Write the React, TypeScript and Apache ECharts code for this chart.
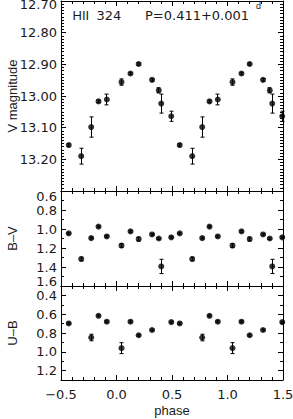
import React, { useEffect, useRef } from 'react';
import * as echarts from 'echarts';

const phases = [0.045, 0.126, 0.200, 0.320, 0.381, 0.403, 0.493, 0.570, 0.682, 0.772, 0.838, 0.913];
const vMag = [12.956, 12.929, 12.899, 12.949, 12.982, 13.024, 13.064, 13.155, 13.190, 13.098, 13.017, 13.011];
const vErr = [0.010, 0.004, 0.004, 0.004, 0.008, 0.030, 0.016, 0.004, 0.025, 0.032, 0.004, 0.017];
const bvColor = [1.174, 1.025, 1.106, 1.057, 1.100, 1.394, 1.088, 1.046, 1.316, 1.096, 0.975, 1.078];
const bvErr = [0.020, 0.010, 0.020, 0.010, 0.010, 0.075, 0.010, 0.010, 0.020, 0.010, 0.010, 0.010];
const ubPhases = [0.045, 0.126, 0.200, 0.320, 0.493, 0.570, 0.772, 0.838, 0.913];
const ubColor = [0.961, 0.680, 0.824, 0.768, 0.684, 0.698, 0.848, 0.617, 0.680];
const ubErr = [0.058, 0.010, 0.010, 0.010, 0.010, 0.010, 0.035, 0.010, 0.010];

// Tick labels
const phaseTicks = [-0.5, 0, 0.5, 1, 1.5];
const vTicks = [12.7, 12.8, 12.9, 13.0, 13.1, 13.2];
const bvTicks = [0.6, 0.8, 1.0, 1.2, 1.4, 1.6];
const ubTicks = [0.4, 0.6, 0.8, 1.0, 1.2];

const NUM = '"DejaVu Sans", sans-serif';
const WORD = '"Liberation Sans", Arial, sans-serif';
const TXT = '#1a1a1a';

// phase-fold each measurement into the plotted range -0.5..1.5
function fold(ph: number[], val: number[], err: number[]) {
  const out: number[][] = [];
  ph.forEach((p, i) => {
    [-1, 0, 1].forEach((k) => {
      const x = p + k;
      if (x >= -0.5 && x <= 1.5) out.push([x, val[i], err[i]]);
    });
  });
  return out;
}

const near = (a: number, b: number) => Math.abs(a - b) < 1e-6;
const numLabel = { fontSize: 13, fontFamily: NUM, color: TXT };
const nameStyle = { fontSize: 13, fontFamily: WORD, color: TXT };
const X_MIN = -0.5, X_MAX = 1.5;

function frameAxis(kind: 'x' | 'y', grid: number, pos: string, min: number, max: number,
  interval: number | undefined, minorSplit: number) {
  const a: any = {
    type: 'value', gridIndex: grid, position: pos, min, max, inverse: kind === 'y',
    axisLine: { show: true, onZero: false, lineStyle: { color: '#000', width: 1 } },
    axisTick: { show: true, inside: true, length: 5, lineStyle: { color: '#000', width: 1 } },
    minorTick: { show: true, splitNumber: minorSplit, length: 3, lineStyle: { color: '#000', width: 1 } },
    splitLine: { show: false },
    axisLabel: { show: false },
  };
  if (interval !== undefined) a.interval = interval;
  return a;
}

function renderErr(params: any, api: any) {
  const x = api.value(0), y = api.value(1), e = api.value(2);
  const p1 = api.coord([x, y - e]);
  const p2 = api.coord([x, y + e]);
  const cx = Math.round(p1[0] - 0.5) + 0.5;
  const c = 2;
  return {
    type: 'group',
    children: [
      { type: 'line', shape: { x1: cx, y1: p1[1], x2: cx, y2: p2[1] }, style: { stroke: '#000', lineWidth: 1 } },
      { type: 'line', shape: { x1: cx - c, y1: p1[1], x2: cx + c, y2: p1[1] }, style: { stroke: '#000', lineWidth: 1 } },
      { type: 'line', shape: { x1: cx - c, y1: p2[1], x2: cx + c, y2: p2[1] }, style: { stroke: '#000', lineWidth: 1 } },
    ],
  };
}

function panelSeries(pts: number[][], axisIndex: number) {
  return [
    { type: 'custom', xAxisIndex: axisIndex, yAxisIndex: axisIndex, data: pts, renderItem: renderErr, encode: { x: 0, y: 1 }, z: 2, clip: false, silent: true },
    { type: 'scatter', xAxisIndex: axisIndex, yAxisIndex: axisIndex, data: pts.map((p) => [p[0], p[1]]), symbol: 'circle', symbolSize: 6, itemStyle: { color: '#000' }, z: 3, clip: false, silent: true },
  ];
}

export default function App() {
  const ref = useRef<HTMLDivElement>(null);
  useEffect(() => {
    if (!ref.current) return;
    const chart = echarts.init(ref.current, null, { renderer: 'svg' });

    const vFmt = (v: number) => (near(v, 12.7) ? '{lo|' + v.toFixed(2) + '}' : v.toFixed(2));
    const bvFmt = (v: number) =>
      near(v, 0.6) ? '{lo|' + v.toFixed(1) + '}' : near(v, 1.6) ? '{hi|' + v.toFixed(1) + '}' : v.toFixed(1);
    const ubFmt = (v: number) => v.toFixed(1);

    const panels = [
      { min: 12.7, max: 13.3, yInt: 0.1, yMinor: 10, labels: vTicks, fmt: vFmt,
        rich: { lo: { ...numLabel, padding: [6, 0, 0, 0] } }, name: 'V magnitude' },
      { min: 0.6, max: 1.6, yInt: 0.2, yMinor: 2, labels: bvTicks, fmt: bvFmt,
        rich: { lo: { ...numLabel, padding: [11, 0, 0, 0] }, hi: { ...numLabel, padding: [0, 0, 9, 0] } }, name: 'B\u2013V' },
      { min: 0.3, max: 1.3, yInt: undefined, yMinor: 2, labels: ubTicks, fmt: ubFmt,
        rich: {}, name: 'U\u2013B' },
    ];
    const xAxes: any[] = [];
    const yAxes: any[] = [];
    panels.forEach((p, g) => {
      const bottom = frameAxis('x', g, 'bottom', X_MIN, X_MAX, 0.5, 5);
      if (g === 2) {
        bottom.axisLabel = {
          ...numLabel, show: true, customValues: phaseTicks, margin: 8,
          formatter: (v: number) => (v < 0 ? '\u2212' : '') + Math.abs(v).toFixed(1),
        };
        bottom.name = 'phase'; bottom.nameLocation = 'middle'; bottom.nameGap = 24;
        bottom.nameMoveOverlap = false; bottom.nameTextStyle = nameStyle;
      }
      xAxes.push(bottom, frameAxis('x', g, 'top', X_MIN, X_MAX, 0.5, 5));
      const left = frameAxis('y', g, 'left', p.min, p.max, p.yInt, p.yMinor);
      left.axisLabel = { ...numLabel, show: true, customValues: p.labels, margin: 4, formatter: p.fmt, rich: p.rich };
      left.name = p.name; left.nameLocation = 'middle'; left.nameGap = 42;
      left.nameMoveOverlap = false; left.nameTextStyle = nameStyle;
      yAxes.push(left, frameAxis('y', g, 'right', p.min, p.max, p.yInt, p.yMinor));
    });

    chart.setOption({
      animation: false,
      grid: [
        { left: 61, right: 10, top: 1, height: 190, outerBoundsMode: 'none' },
        { left: 61, right: 10, top: 191, height: 95, outerBoundsMode: 'none' },
        { left: 61, right: 10, top: 286, height: 94, outerBoundsMode: 'none' },
      ],
      xAxis: xAxes,
      yAxis: yAxes,
      graphic: [
        { type: 'text', x: 72.5, y: 15.5, style: { text: 'HII', fontSize: 13, fontFamily: WORD, fill: TXT, verticalAlign: 'middle' } },
        { type: 'text', x: 96.5, y: 15.5, style: { text: '324', fontSize: 13, fontFamily: NUM, fill: TXT, verticalAlign: 'middle' } },
        { type: 'text', x: 145, y: 15.5, style: { text: 'P=0.411+0.001', fontSize: 13, fontFamily: NUM, fill: TXT, verticalAlign: 'middle' } },
        { type: 'text', x: 256, y: 5.5, style: { text: 'd', fontSize: 9, fontFamily: WORD, fill: TXT, verticalAlign: 'middle' } },
      ],
      series: [
        ...panelSeries(fold(phases, vMag, vErr), 0),
        ...panelSeries(fold(phases, bvColor, bvErr), 2),
        ...panelSeries(fold(ubPhases, ubColor, ubErr), 4),
      ],
    } as any);
    return () => chart.dispose();
  }, []);
  return <div ref={ref} style={{ position: 'absolute', left: 0, top: 0, width: 293, height: 419 }} />;
}
